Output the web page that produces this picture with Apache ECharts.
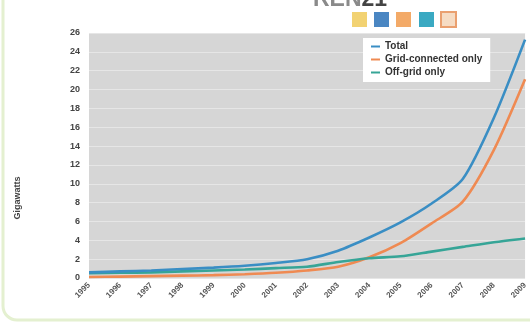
<!DOCTYPE html>
<html>
<head>
<meta charset="utf-8">
<script src="https://cdn.jsdelivr.net/npm/echarts@6/dist/echarts.min.js"></script>
<style>html,body{margin:0;padding:0;background:#fff}#c{width:530px;height:324px}</style>
</head>
<body>
<div id="c"></div>
<script>
const years = ['1995','1996','1997','1998','1999','2000','2001','2002','2003','2004','2005','2006','2007','2008','2009'];
const total = [0.6, 0.7, 0.8, 0.95, 1.1, 1.3, 1.6, 2.0, 2.9, 4.3, 5.9, 7.9, 10.5, 17.0, 25.3];
const gridConnected = [0.1, 0.15, 0.2, 0.25, 0.3, 0.4, 0.55, 0.8, 1.2, 2.2, 3.7, 5.8, 8.1, 13.6, 21.1];
const offGrid = [0.5, 0.55, 0.6, 0.7, 0.8, 0.9, 1.05, 1.2, 1.7, 2.1, 2.3, 2.8, 3.3, 3.8, 4.2];
const yTicks = [0, 26, 2];

const chart = echarts.init(document.getElementById('c'));
chart.setOption({
  animation: false,
  backgroundColor: '#fff',
  grid: { left: 89, top: 33, right: 0, bottom: 46, show: true, backgroundColor: '#d6d6d6', borderWidth: 0 },
  legend: {
    orient: 'vertical', left: 363, top: 38, backgroundColor: '#fff',
    padding: [3, 8, 4, 8], itemGap: 2, itemWidth: 9, itemHeight: 2, icon: 'rect',
    textStyle: { fontSize: 10, lineHeight: 11, fontWeight: 'bold', color: '#333', fontFamily: 'Liberation Sans' },
    data: ['Total', 'Grid-connected only', 'Off-grid only']
  },
  xAxis: {
    type: 'category', data: years, boundaryGap: false,
    axisLine: { show: false }, axisTick: { show: false },
    axisLabel: { rotate: 45, fontSize: 8, fontWeight: 'bold', color: '#555', margin: 6, fontFamily: 'Liberation Sans' }
  },
  yAxis: {
    type: 'value', min: yTicks[0], max: yTicks[1], interval: yTicks[2],
    axisLine: { show: false }, axisTick: { show: false },
    axisLabel: { fontSize: 9, fontWeight: 'bold', color: '#444', margin: 9, fontFamily: 'Liberation Sans' },
    splitLine: { lineStyle: { color: '#e6e6e6', width: 1 } }
  },
  series: [
    { name: 'Total', type: 'line', data: total, symbol: 'none', smooth: 0.25, lineStyle: { width: 2.6, color: '#3a8ec4' }, itemStyle: { color: '#3a8ec4' }, z: 3 },
    { name: 'Grid-connected only', type: 'line', data: gridConnected, symbol: 'none', smooth: 0.25, lineStyle: { width: 2.6, color: '#ef8a52' }, itemStyle: { color: '#ef8a52' }, z: 2 },
    { name: 'Off-grid only', type: 'line', data: offGrid, symbol: 'none', smooth: 0.25, lineStyle: { width: 2.6, color: '#36a597' }, itemStyle: { color: '#36a597' }, z: 2 }
  ],
  graphic: [
    { type: 'rect', shape: { x: 3, y: -30, width: 560, height: 350, r: 14 }, style: { fill: 'none', stroke: '#e4f0d0', lineWidth: 3 }, silent: true },
    { type: 'text', x: 18, y: 198, rotation: Math.PI / 2, style: { text: 'Gigawatts', fontSize: 9, fontWeight: 'bold', fill: '#444', fontFamily: 'Liberation Sans', align: 'center', verticalAlign: 'middle' } },
    { type: 'text', left: 313, top: -12, style: { text: '{a|REN}{b|21}', rich: { a: { fontSize: 23, fontWeight: 'bold', fill: '#8a8a8a', fontFamily: 'Liberation Sans' }, b: { fontSize: 23, fontWeight: 'bold', fill: '#444', fontFamily: 'Liberation Sans' } } } },
    { type: 'rect', shape: { x: 352, y: 12, width: 15, height: 15 }, style: { fill: '#f2d272' } },
    { type: 'rect', shape: { x: 374, y: 12, width: 15, height: 15 }, style: { fill: '#4a86c2' } },
    { type: 'rect', shape: { x: 396, y: 12, width: 15, height: 15 }, style: { fill: '#f3aa68' } },
    { type: 'rect', shape: { x: 419, y: 12, width: 15, height: 15 }, style: { fill: '#3aa9c2' } },
    { type: 'rect', shape: { x: 441, y: 12, width: 15, height: 15 }, style: { fill: '#f6dcc4', stroke: '#eaa070', lineWidth: 2 } }
  ]
});
</script>
</body>
</html>
